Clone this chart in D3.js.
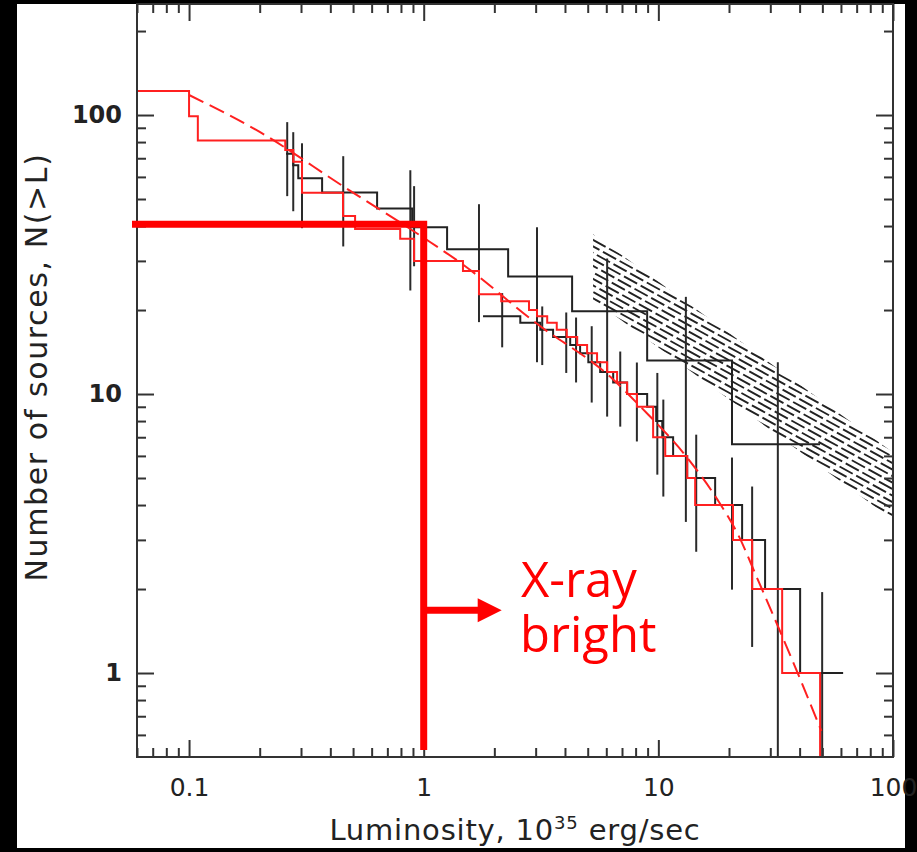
<!DOCTYPE html>
<html>
<head>
<meta charset="utf-8">
<title>Cumulative luminosity function</title>
<script src="https://cdn.jsdelivr.net/npm/d3@7"></script>
<style>
  body { margin: 0; background: #000; }
  svg { display: block; }
</style>
</head>
<body>
<script>
// red cumulative curve: luminosity where each step starts, and its level
let redL = [0.06, 0.1, 0.109, 0.257, 0.278, 0.303, 0.453, 0.51, 0.794, 0.91, 1.47, 1.72, 2.14, 2.81,
            3.04, 3.36, 3.69, 4.07, 4.51, 4.97, 5.48, 6.05, 6.67, 7.36, 8.11, 9.5, 10.7, 13.27, 14.35, 20.8, 25.1, 33.7]
let redN = [122, 99, 81, 75, 68, 52.7, 43.5, 39, 36, 30, 27.6, 22.8, 21.5, 20,
            19, 18, 17, 16, 15, 14, 13, 12, 11, 10, 9, 7, 6, 5, 4, 3, 2, 1]
let redEnd = 48.9

// red dashed model curve
let modelL = [0.1, 0.2, 0.454, 1, 1.43, 3, 6.4, 8.4, 13.3, 17.8, 22, 26.3, 37.6, 49.5]
let modelN = [118, 87, 55.5, 36.3, 29.6, 18, 11.3, 9.0, 5.9, 4.2, 3.1, 2.2, 1.09, 0.62]

// black curve A (upper one)
let aL = [0.259, 0.278, 0.292, 0.369, 0.633, 0.893, 1.258, 2.29, 4.29, 8.96, 20.6]
let aN = [72.6, 66, 59.4, 52.8, 46.2, 39.6, 33, 26.4, 19.8, 13.2, 6.6]
let aEnd = 48.9

// black curve B (lower one)
let bL = [1.79, 2.58, 3.14, 3.56, 4.21, 4.64, 5.03, 5.65, 6.42, 7.36, 8.96, 9.79, 10.39, 11.56, 13.27, 17.46, 22.75, 28.5, 40.2]
let bN = [19, 18, 17, 16, 15, 14, 13, 12, 11, 10, 9, 8, 7, 6, 5, 4, 3, 2, 1]
let bEnd = 61.3

// error bars
let errL  = [0.262, 0.278, 0.303, 0.454, 0.877, 0.91, 1.72, 2.16, 3.04, 3.2, 4.05, 4.46, 5.2, 6.05, 6.88, 8.1, 9.9, 10.5, 13.1, 14.5, 20.6, 25.1, 32.3, 49.9]
let errHi = [94.3, 86.8, 79.2, 71.2, 63.4, 55.6, 47.9, 23.0, 39.6, 20.6, 19.6, 18.8, 17.5, 30.6, 14.2, 12.97, 11.9, 9.55, 22.3, 7.15, 5.92, 4.66, 13, 1.95]
let errLo = [51.2, 45.2, 39.3, 33.8, 23.5, 28.7, 18.1, 14.7, 13.0, 12.7, 11.9, 11.0, 9.32, 8.3, 7.64, 6.76, 5.14, 4.29, 3.48, 2.72, 1.99, 1.24, 0.4, 0.4]

// hatched band (two parallel power laws)
let bandL  = [5.27, 100]
let bandHi = [37.4, 6.17]
let bandLo = [21.8, 3.54]

// ticks
let xMajor = [0.1, 1, 10, 100]
let xTickText = ['0.1', '1', '10', '100']
let yMajor = [1, 10, 100]
let yTickText = ['1', '10', '100']

// annotation
let cutL = 1, cutN = 40.6, arrowN = 1.68, arrowTipL = 2.15

let W = 917, H = 852
let pL = 137, pR = 893, pT = 4, pB = 757

let x = d3.scaleLog().domain([0.06, 100]).range([pL, pR])
let y = d3.scaleLog().domain([0.5, 250]).range([pB, pT])

let svg = d3.select('body').append('svg').attr('width', W).attr('height', H)

svg.append('rect').attr('x', 17).attr('y', 4).attr('width', 888).attr('height', 844).attr('fill', '#fff')

let defs = svg.append('defs')
defs.append('clipPath').attr('id', 'plot')
    .append('rect').attr('x', pL).attr('y', pT).attr('width', pR - pL).attr('height', pB - pT)

// hatched band outline used as a clip
let band = bandL.map((l, i) => [x(l), y(bandHi[i])])
    .concat(bandL.map((l, i) => [x(l), y(bandLo[i])]).reverse())
defs.append('clipPath').attr('id', 'band')
    .append('path').attr('d', 'M' + band.join('L') + 'Z')

let plot = svg.append('g').attr('clip-path', 'url(#plot)')

// hatch lines, slightly shallower than the band, broken like the scanned original
let slope = 0.55
let hx0 = x(bandL[0]) - 5, hx1 = pR + 5
let hatch = plot.append('g').attr('clip-path', 'url(#band)')
hatch.selectAll('line').data(d3.range(y(bandHi[0]) - 10, y(bandLo[0]) + 90, 6.5)).enter().append('line')
    .attr('x1', hx0).attr('y1', d => d)
    .attr('x2', hx1).attr('y2', d => d + slope * (hx1 - hx0))
    .attr('stroke', '#222').attr('stroke-width', 1.9)
    .attr('stroke-dasharray', '15,4')
    .attr('stroke-dashoffset', (d, i) => (i * 7) % 19)

// step curves
let step = d3.line().x(d => x(d[0])).y(d => y(d[1])).curve(d3.curveStepAfter)

let stepPts = function(L, N, end, drop){
    let pts = L.map((l, i) => [l, N[i]])
    pts.push([end, drop ? 0.4 : N[N.length - 1]])
    return pts
}

// error bars
plot.selectAll('.err').data(errL).enter().append('line')
    .attr('x1', d => x(d)).attr('x2', d => x(d))
    .attr('y1', (d, i) => y(errHi[i])).attr('y2', (d, i) => y(errLo[i]))
    .attr('stroke', '#2a2a2a').attr('stroke-width', 2)

plot.append('path').attr('d', step(stepPts(aL, aN, aEnd, false)))
    .attr('fill', 'none').attr('stroke', '#222').attr('stroke-width', 2)
plot.append('path').attr('d', step(stepPts(bL, bN, bEnd, false)))
    .attr('fill', 'none').attr('stroke', '#222').attr('stroke-width', 2)

plot.append('path').attr('d', step(stepPts(redL, redN, redEnd, true)))
    .attr('fill', 'none').attr('stroke', '#ff2020').attr('stroke-width', 2)

let model = d3.line().x(d => x(d[0])).y(d => y(d[1])).curve(d3.curveMonotoneX)
plot.append('path').attr('d', model(modelL.map((l, i) => [l, modelN[i]])))
    .attr('fill', 'none').attr('stroke', '#ff2020').attr('stroke-width', 2)
    .attr('stroke-dasharray', '16,7')

// axes: major and minor ticks on all four sides, pointing inward
let styleAxis = function(g){
    g.select('.domain').remove()
    g.selectAll('line').attr('stroke', '#333').attr('stroke-width', 2)
    g.selectAll('text').attr('fill', '#222').attr('font-family', '"DejaVu Sans", sans-serif')
}
let xMinor = x.ticks().filter(d => xMajor.indexOf(d) < 0)
let yMinor = y.ticks().filter(d => yMajor.indexOf(d) < 0 && d > 0.5)

svg.append('g').attr('transform', 'translate(0,' + pB + ')')
    .call(d3.axisBottom(x).tickValues(xMajor).tickSizeInner(-17).tickSizeOuter(0).tickPadding(21)
        .tickFormat(d => xTickText[xMajor.indexOf(d)]))
    .call(styleAxis)
    .selectAll('text').attr('font-size', 25)
svg.append('g').attr('transform', 'translate(0,' + pB + ')')
    .call(d3.axisBottom(x).tickValues(xMinor).tickSizeInner(-9).tickSizeOuter(0).tickFormat(''))
    .call(styleAxis)
svg.append('g').attr('transform', 'translate(0,' + pT + ')')
    .call(d3.axisTop(x).tickValues(xMajor).tickSizeInner(-17).tickSizeOuter(0).tickFormat(''))
    .call(styleAxis)
svg.append('g').attr('transform', 'translate(0,' + pT + ')')
    .call(d3.axisTop(x).tickValues(xMinor).tickSizeInner(-9).tickSizeOuter(0).tickFormat(''))
    .call(styleAxis)

svg.append('g').attr('transform', 'translate(' + pL + ',0)')
    .call(d3.axisLeft(y).tickValues(yMajor).tickSizeInner(-17).tickSizeOuter(0).tickPadding(15)
        .tickFormat(d => yTickText[yMajor.indexOf(d)]))
    .call(styleAxis)
    .selectAll('text').attr('font-size', 24).attr('font-weight', 'bold')
svg.append('g').attr('transform', 'translate(' + pL + ',0)')
    .call(d3.axisLeft(y).tickValues(yMinor).tickSizeInner(-9).tickSizeOuter(0).tickFormat(''))
    .call(styleAxis)
svg.append('g').attr('transform', 'translate(' + pR + ',0)')
    .call(d3.axisRight(y).tickValues(yMajor).tickSizeInner(-17).tickSizeOuter(0).tickFormat(''))
    .call(styleAxis)
svg.append('g').attr('transform', 'translate(' + pR + ',0)')
    .call(d3.axisRight(y).tickValues(yMinor).tickSizeInner(-9).tickSizeOuter(0).tickFormat(''))
    .call(styleAxis)

svg.append('rect').attr('x', pL).attr('y', pT).attr('width', pR - pL).attr('height', pB - pT)
    .attr('fill', 'none').attr('stroke', '#333').attr('stroke-width', 2)

// axis titles
let xt = svg.append('text').attr('x', (pL + pR) / 2).attr('y', 840)
    .attr('text-anchor', 'middle').attr('font-family', '"DejaVu Sans", sans-serif')
    .attr('font-size', 29).attr('letter-spacing', 0.8).attr('fill', '#222')
xt.append('tspan').text('Luminosity, 10')
xt.append('tspan').text('35').attr('font-size', 18).attr('dy', -11)
xt.append('tspan').text(' erg/sec').attr('dy', 11)

svg.append('text')
    .attr('transform', 'translate(47,' + 367 + ') rotate(-90)')
    .attr('text-anchor', 'middle').attr('font-family', '"DejaVu Sans", sans-serif')
    .attr('font-size', 30).attr('letter-spacing', 1.6).attr('fill', '#222')
    .text('Number of sources, N(>L)')

// thick red annotation: cut at L = 1 and the "X-ray bright" arrow
let red = '#ff0000'
svg.append('path')
    .attr('d', 'M' + (pL - 5) + ',' + y(cutN) + 'L' + x(cutL) + ',' + y(cutN) + 'L' + x(cutL) + ',' + (pB - 7))
    .attr('fill', 'none').attr('stroke', red).attr('stroke-width', 7).attr('stroke-linejoin', 'miter')

let ay = y(arrowN), tip = x(arrowTipL)
svg.append('line').attr('x1', x(cutL)).attr('x2', tip - 20).attr('y1', ay).attr('y2', ay)
    .attr('stroke', red).attr('stroke-width', 7)
svg.append('path')
    .attr('d', 'M' + tip + ',' + ay + 'L' + (tip - 24) + ',' + (ay - 12) + 'L' + (tip - 24) + ',' + (ay + 12) + 'Z')
    .attr('fill', red)

let lbl = svg.append('text')
    .attr('font-family', '"Open Sans", sans-serif').attr('font-size', 49).attr('fill', red)
lbl.append('tspan').attr('x', 521).attr('y', 597).text('X-ray')
lbl.append('tspan').attr('x', 520).attr('y', 652).text('bright')
</script>
</body>
</html>
